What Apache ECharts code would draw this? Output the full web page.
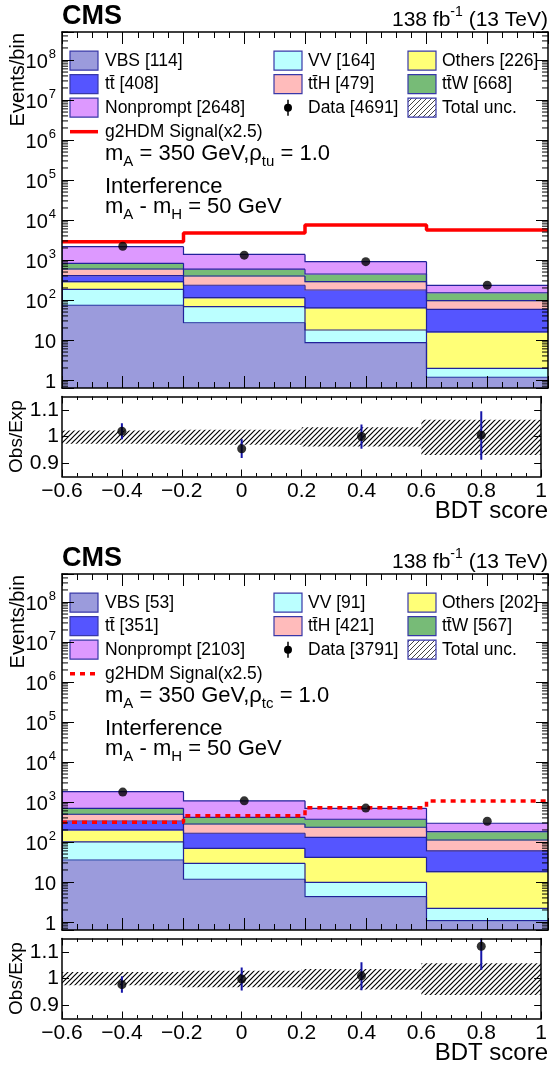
<!DOCTYPE html>
<html><head><meta charset="utf-8">
<script src="https://cdn.jsdelivr.net/npm/echarts@6/dist/echarts.min.js"></script>
<style>html,body{margin:0;padding:0;background:#fff}#c{width:550px;height:1072px}</style>
</head><body><div id="c"></div>
<script>
const FONT = '"Liberation Sans", Arial, Helvetica, sans-serif';

// ---------- shared binning / ticks ----------
const binEdges = [-0.6, -0.2, 0.2, 0.6, 1.0];
const binCenters = [-0.4, 0, 0.4, 0.8];
const ratioTicks = [0.9, 1, 1.1];
const logMinorMult = [2, 3, 4, 5, 6, 7, 8, 9];
const logDecades = [-1, 0, 1, 2, 3, 4, 5, 6, 7, 8];

// ---------- process metadata ----------
const procLabels = ['VBS', 'VV', 'Others', 'tt\u0304', 'tt\u0304H', 'tt\u0304W', 'Nonprompt'];
const procColors = ['#9b9bdc', '#bbffff', '#ffff77', '#5555ff', '#ffbbbb', '#77bb77', '#dd99ff'];

// ---------- Panel 1 (rho_tu) ----------
const p1_VBS       = [74, 27, 8.6, 1.17];
const p1_VV        = [111, 41, 9.2, 0.79];
const p1_Others    = [102, 46, 46, 14];
const p1_ttbar     = [118, 120, 114, 42];
const p1_ttH       = [191, 164, 109, 38];
const p1_ttW       = [230, 192, 160, 56];
const p1_Nonprompt = [1324, 790, 459, 81];
const p1_Data      = [2200, 1320, 910, 235];
const p1_Signal    = [2870, 4700, 7500, 5620];
const p1_Ratio     = [1.02, 0.954, 1.0, 1.005];
const p1_RatioLo   = [0.99, 0.919, 0.954, 0.9125];
const p1_RatioHi   = [1.05, 0.99, 1.045, 1.095];
const p1_UncLo     = [0.9725, 0.969, 0.9625, 0.931];
const p1_UncHi     = [1.0225, 1.025, 1.035, 1.0625];
const p1_Yields    = [114, 164, 226, 408, 479, 668, 2648];
const p1_DataYield = 4691;

// ---------- Panel 2 (rho_tc) ----------
const p2_VBS       = [35.5, 11.7, 4.3, 1.08];
const p2_VV        = [65.5, 17.6, 5.5, 1.12];
const p2_Others    = [99, 40.3, 31.7, 15.9];
const p2_ttbar     = [135, 96, 89.5, 42];
const p2_ttH       = [159, 116, 103, 52];
const p2_ttW       = [202, 133, 136, 69];
const p2_Nonprompt = [1114, 655, 326, 113];
const p2_Data      = [1770, 1068, 703, 330];
const p2_Signal    = [310, 455, 720, 1060];
const p2_Ratio     = [0.977, 0.998, 1.010, 1.121];
const p2_RatioLo   = [0.947, 0.955, 0.956, 1.0325];
const p2_RatioHi   = [1.008, 1.041, 1.061, 1.165];
const p2_UncLo     = [0.975, 0.967, 0.959, 0.938];
const p2_UncHi     = [1.024, 1.029, 1.036, 1.057];
const p2_Yields    = [53, 91, 202, 351, 421, 567, 2103];
const p2_DataYield = 3791;

const YMIN = 0.631, YMAX = 5.01e8;
const RMIN = 0.85, RMAX = 1.15;
const OUTLINE = '#22229a';

function makeHatch(color, s, lw) {
  const c = document.createElement('canvas');
  c.width = s; c.height = s;
  const g = c.getContext('2d');
  g.strokeStyle = color; g.lineWidth = lw;
  g.beginPath();
  g.moveTo(-1, s + 1); g.lineTo(s + 1, -1);
  g.moveTo(-1, 1); g.lineTo(1, -1);
  g.moveTo(s - 1, s + 1); g.lineTo(s + 1, s - 1);
  g.stroke();
  return c;
}
const hatch = makeHatch('#000', 5, 1.2);
const hatchLegend = makeHatch('#444', 5, 1);

const panels = [
  { off: 0, procs: [p1_VBS, p1_VV, p1_Others, p1_ttbar, p1_ttH, p1_ttW, p1_Nonprompt],
    data: p1_Data, signal: p1_Signal, ratio: p1_Ratio, rlo: p1_RatioLo, rhi: p1_RatioHi,
    ulo: p1_UncLo, uhi: p1_UncHi, yields: p1_Yields, dataYield: p1_DataYield, rho: 'tu', dashed: false },
  { off: 542, procs: [p2_VBS, p2_VV, p2_Others, p2_ttbar, p2_ttH, p2_ttW, p2_Nonprompt],
    data: p2_Data, signal: p2_Signal, ratio: p2_Ratio, rlo: p2_RatioLo, rhi: p2_RatioHi,
    ulo: p2_UncLo, uhi: p2_UncHi, yields: p2_Yields, dataYield: p2_DataYield, rho: 'tc', dashed: true }
];

const grids = [], xAxes = [], yAxes = [], series = [], graphics = [];

function xAxisDef(gi, pos, isRatio, labels) {
  return {
    type: 'value', gridIndex: gi, position: pos, min: -0.6, max: 1, interval: 0.2, z: 10,
    axisLine: { show: true, onZero: false, lineStyle: { color: '#000', width: 1.5 } },
    axisTick: { show: true, inside: true, length: isRatio ? 7 : 12, lineStyle: { color: '#000', width: 1 } },
    minorTick: { show: true, splitNumber: 4, length: isRatio ? 3.5 : 6, lineStyle: { color: '#000', width: 1 } },
    splitLine: { show: false }, minorSplitLine: { show: false },
    axisLabel: labels ? {
      show: true, margin: 4, fontSize: 21, fontFamily: FONT, color: '#000',
      formatter: v => { const r = Math.round(v * 10) / 10; return r < 0 ? '\u2212' + (-r) : String(r); }
    } : { show: false }
  };
}

function logYAxisDef(gi, pos, labels) {
  return {
    type: 'log', logBase: 10, gridIndex: gi, position: pos, min: YMIN, max: YMAX, z: 10,
    axisLine: { show: true, onZero: false, lineStyle: { color: '#000', width: 1.5 } },
    axisTick: { show: true, inside: true, length: 12, lineStyle: { color: '#000', width: 1 } },
    splitLine: { show: false },
    axisLabel: labels ? {
      show: true, margin: 6, color: '#000',
      formatter: v => {
        const e = Math.log10(v), r = Math.round(e);
        if (Math.abs(e - r) > 1e-6) return '';
        if (r === 0) return '{b|1}';
        if (r === 1) return '{b|10}';
        return '{b|10}{s|' + r + '}';
      },
      rich: {
        b: { fontSize: 20, fontFamily: FONT, color: '#000', lineHeight: 24, verticalAlign: 'bottom' },
        s: { fontSize: 13, fontFamily: FONT, color: '#000', lineHeight: 13, verticalAlign: 'top', padding: [0, 0, 0, 1] }
      }
    } : { show: false }
  };
}

function ratioYAxisDef(gi, pos, labels) {
  return {
    type: 'value', gridIndex: gi, position: pos, min: RMIN, max: RMAX, z: 10,
    axisLine: { show: true, onZero: false, lineStyle: { color: '#000', width: 1.5 } },
    axisTick: { show: true, inside: true, length: 7, customValues: ratioTicks, lineStyle: { color: '#000', width: 1 } },
    splitLine: { show: false },
    axisLabel: labels ? {
      show: true, margin: 3, fontSize: 21, fontFamily: FONT, color: '#000', customValues: ratioTicks,
      formatter: v => String(Math.round(v * 10) / 10)
    } : { show: false }
  };
}

panels.forEach((P, pi) => {
  const gm = pi * 2, gr = pi * 2 + 1;
  grids.push({ left: 62, width: 486, top: 32 + P.off, height: 356 });
  grids.push({ left: 62, width: 486, top: 396.5 + P.off, height: 80 });
  xAxes.push(xAxisDef(gm, 'bottom', false, false));
  xAxes.push(xAxisDef(gm, 'top', false, false));
  yAxes.push(logYAxisDef(gm, 'left', true));
  yAxes.push(logYAxisDef(gm, 'right', false));
  xAxes.push(xAxisDef(gr, 'bottom', true, true));
  xAxes.push(xAxisDef(gr, 'top', true, false));
  yAxes.push(ratioYAxisDef(gr, 'left', true));
  yAxes.push(ratioYAxisDef(gr, 'right', false));

  const xm = gm * 2, ym = gm * 2, xr = gr * 2, yr = gr * 2;

  // stacked histogram (each layer drawn from its cumulative lower edge to upper edge)
  let cum = [0, 0, 0, 0];
  P.procs.forEach((vals, k) => {
    const lo = cum.slice();
    const hi = vals.map((v, i) => cum[i] + v);
    const data = vals.map((v, i) => [binEdges[i], binEdges[i + 1], k === 0 ? YMIN : lo[i], hi[i], i === 0 ? YMIN : hi[i - 1]]);
    const color = procColors[k];
    series.push({
      type: 'custom', name: procLabels[k] + ' [' + P.yields[k] + ']', xAxisIndex: xm, yAxisIndex: ym,
      clip: true, silent: true, z: 2, data: data,
      renderItem: (params, api) => {
        const x0 = api.value(0), x1 = api.value(1), l = api.value(2), h = api.value(3), pv = api.value(4);
        const tl = api.coord([x0, h]), br = api.coord([x1, l]);
        const py = api.coord([x0, pv])[1];
        return { type: 'group', children: [
          { type: 'rect', z2: 0, shape: { x: tl[0] - 0.5, y: tl[1], width: br[0] - tl[0] + 1, height: br[1] - tl[1] + 0.5 }, style: { fill: color } },
          { type: 'polyline', z2: 50, shape: { points: [[tl[0], py], [tl[0], tl[1]], [br[0], tl[1]]] }, style: { stroke: OUTLINE, lineWidth: 1.2, fill: null } }
        ]};
      }
    });
    cum = hi;
  });

  // log minor ticks (left + right)
  const minorVals = [];
  logDecades.forEach(d => logMinorMult.forEach(m => { const v = m * Math.pow(10, d); if (v > YMIN && v < YMAX) minorVals.push([v]); }));
  series.push({
    type: 'custom', xAxisIndex: xm, yAxisIndex: ym, silent: true, z: 12, data: minorVals,
    renderItem: (params, api) => {
      const cs = params.coordSys;
      const y = api.coord([-0.6, api.value(0)])[1];
      return { type: 'group', children: [
        { type: 'line', shape: { x1: cs.x, y1: y, x2: cs.x + 6, y2: y }, style: { stroke: '#000', lineWidth: 1 } },
        { type: 'line', shape: { x1: cs.x + cs.width - 6, y1: y, x2: cs.x + cs.width, y2: y }, style: { stroke: '#000', lineWidth: 1 } }
      ]};
    }
  });

  // signal step line
  const sig = P.signal.map((v, i) => [binEdges[i], v]);
  sig.push([binEdges[4], P.signal[3]]);
  series.push({
    type: 'line', name: 'g2HDM Signal(x2.5)', xAxisIndex: xm, yAxisIndex: ym, step: 'end', showSymbol: false,
    z: 6, silent: true, data: sig,
    lineStyle: { color: '#ff0000', width: 3.5, type: P.dashed ? [5, 5] : 'solid' }
  });

  // data points main
  series.push({
    type: 'scatter', name: 'Data [' + P.dataYield + ']', xAxisIndex: xm, yAxisIndex: ym, z: 7, silent: true,
    symbol: 'circle', symbolSize: 9, itemStyle: { color: '#000' },
    data: binCenters.map((x, i) => [x, P.data[i]])
  });

  // ratio uncertainty band
  series.push({
    type: 'custom', xAxisIndex: xr, yAxisIndex: yr, clip: true, silent: true, z: 3,
    data: P.ulo.map((l, i) => [binEdges[i], binEdges[i + 1], l, P.uhi[i]]),
    renderItem: (params, api) => {
      const tl = api.coord([api.value(0), api.value(3)]), br = api.coord([api.value(1), api.value(2)]);
      return { type: 'rect', shape: { x: tl[0], y: tl[1], width: br[0] - tl[0], height: br[1] - tl[1] },
               style: { fill: { image: hatch, repeat: 'repeat' }, stroke: null } };
    }
  });
  // ratio error bars
  series.push({
    type: 'custom', xAxisIndex: xr, yAxisIndex: yr, clip: true, silent: true, z: 4,
    data: P.rlo.map((l, i) => [binCenters[i], l, P.rhi[i]]),
    renderItem: (params, api) => {
      const a = api.coord([api.value(0), api.value(1)]), b = api.coord([api.value(0), api.value(2)]);
      return { type: 'line', shape: { x1: a[0], y1: a[1], x2: b[0], y2: b[1] }, style: { stroke: '#1414a8', lineWidth: 2 } };
    }
  });
  // ratio points
  series.push({
    type: 'scatter', xAxisIndex: xr, yAxisIndex: yr, z: 5, silent: true, clip: true,
    symbol: 'circle', symbolSize: 9, itemStyle: { color: '#000' },
    data: binCenters.map((x, i) => [x, P.ratio[i]])
  });

  // ---------- graphics: texts + legend ----------
  const o = P.off;
  graphics.push({ type: 'text', style: { text: 'CMS', x: 62, y: 17 + o, font: 'bold 27px ' + FONT, fill: '#000', align: 'left', verticalAlign: 'middle', textAlign: 'left', textVerticalAlign: 'middle' } });
  graphics.push({ type: 'text', style: {
    text: '{t|138 fb}{s|-1}{t| (13 TeV)}', x: 548, y: 18 + o, align: 'right', verticalAlign: 'middle', textAlign: 'right', textVerticalAlign: 'middle',
    rich: { t: { fontSize: 21, fontFamily: FONT, fill: '#000', lineHeight: 25, verticalAlign: 'bottom' },
            s: { fontSize: 14, fontFamily: FONT, fill: '#000', lineHeight: 14, verticalAlign: 'top' } } } });
  graphics.push({ type: 'text', rotation: Math.PI / 2, x: 18, y: 33 + o, style: { text: 'Events/bin', x: 0, y: 0, font: '20px ' + FONT, fill: '#000', align: 'right', verticalAlign: 'middle', textAlign: 'right', textVerticalAlign: 'middle' } });
  graphics.push({ type: 'text', rotation: Math.PI / 2, x: 17, y: 436.5 + o, style: { text: 'Obs/Exp', x: 0, y: 0, font: '19px ' + FONT, fill: '#000', align: 'center', verticalAlign: 'middle', textAlign: 'center', textVerticalAlign: 'middle' } });
  graphics.push({ type: 'text', style: { text: 'BDT score', x: 548, y: 511 + o, font: '24px ' + FONT, fill: '#000', align: 'right', verticalAlign: 'middle', textAlign: 'right', textVerticalAlign: 'middle' } });

  const richAnn = {
    t: { fontSize: 22, fontFamily: FONT, fill: '#000', lineHeight: 22, verticalAlign: 'top' },
    s: { fontSize: 15, fontFamily: FONT, fill: '#000', lineHeight: 15, verticalAlign: 'top', padding: [11, 0, 0, 0] }
  };
  graphics.push({ type: 'text', style: { text: '{t|m}{s|A}{t| = 350 GeV,\u03c1}{s|' + P.rho + '}{t| = 1.0}', x: 105, y: 143 + o, align: 'left', verticalAlign: 'top', textAlign: 'left', textVerticalAlign: 'top', rich: richAnn } });
  graphics.push({ type: 'text', style: { text: 'Interference', x: 105, y: 186.5 + o, font: '22px ' + FONT, fill: '#000', align: 'left', verticalAlign: 'middle', textAlign: 'left', textVerticalAlign: 'middle' } });
  graphics.push({ type: 'text', style: { text: '{t|m}{s|A}{t| - m}{s|H}{t| = 50 GeV}', x: 105, y: 196 + o, align: 'left', verticalAlign: 'top', textAlign: 'left', textVerticalAlign: 'top', rich: richAnn } });

  // legend
  const rowY = [60.7, 84.2, 107.7, 131.7].map(v => v + o);
  const boxX = [70, 274, 408], txtX = [105, 308, 442];
  const legFont = '17.5px ' + FONT;
  const layout = [[0, 1, 2], [3, 4, 5], [6, 'data', 'unc']];
  layout.forEach((row, r) => row.forEach((item, c) => {
    const y = rowY[r];
    let label;
    if (typeof item === 'number') {
      graphics.push({ type: 'rect', shape: { x: boxX[c], y: y - 9.5, width: 28, height: 19 }, style: { fill: procColors[item], stroke: '#3838a8', lineWidth: 1.2 } });
      label = procLabels[item] + ' [' + P.yields[item] + ']';
    } else if (item === 'data') {
      graphics.push({ type: 'line', shape: { x1: 288, y1: y - 8, x2: 288, y2: y + 8 }, style: { stroke: '#000', lineWidth: 1.5 } });
      graphics.push({ type: 'circle', shape: { cx: 288, cy: y, r: 4 }, style: { fill: '#000' } });
      label = 'Data [' + P.dataYield + ']';
    } else {
      graphics.push({ type: 'rect', shape: { x: boxX[c], y: y - 9.5, width: 28, height: 19 }, style: { fill: { image: hatchLegend, repeat: 'repeat' }, stroke: '#3838a8', lineWidth: 1.2 } });
      label = 'Total unc.';
    }
    graphics.push({ type: 'text', style: { text: label, x: txtX[c], y: y, font: legFont, fill: '#000', align: 'left', verticalAlign: 'middle', textAlign: 'left', textVerticalAlign: 'middle' } });
  }));
  graphics.push({ type: 'line', shape: { x1: 70, y1: rowY[3], x2: 98, y2: rowY[3] }, style: { stroke: '#ff0000', lineWidth: 3.5, lineDash: P.dashed ? [5, 5] : null } });
  graphics.push({ type: 'text', style: { text: 'g2HDM Signal(x2.5)', x: 105, y: rowY[3], font: legFont, fill: '#000', align: 'left', verticalAlign: 'middle', textAlign: 'left', textVerticalAlign: 'middle' } });
});

const chart = echarts.init(document.getElementById('c'), null, { renderer: 'canvas' });
chart.setOption({
  animation: false,
  backgroundColor: '#ffffff',
  grid: grids,
  xAxis: xAxes,
  yAxis: yAxes,
  series: series,
  graphic: { elements: graphics }
});
</script>
</body></html>
